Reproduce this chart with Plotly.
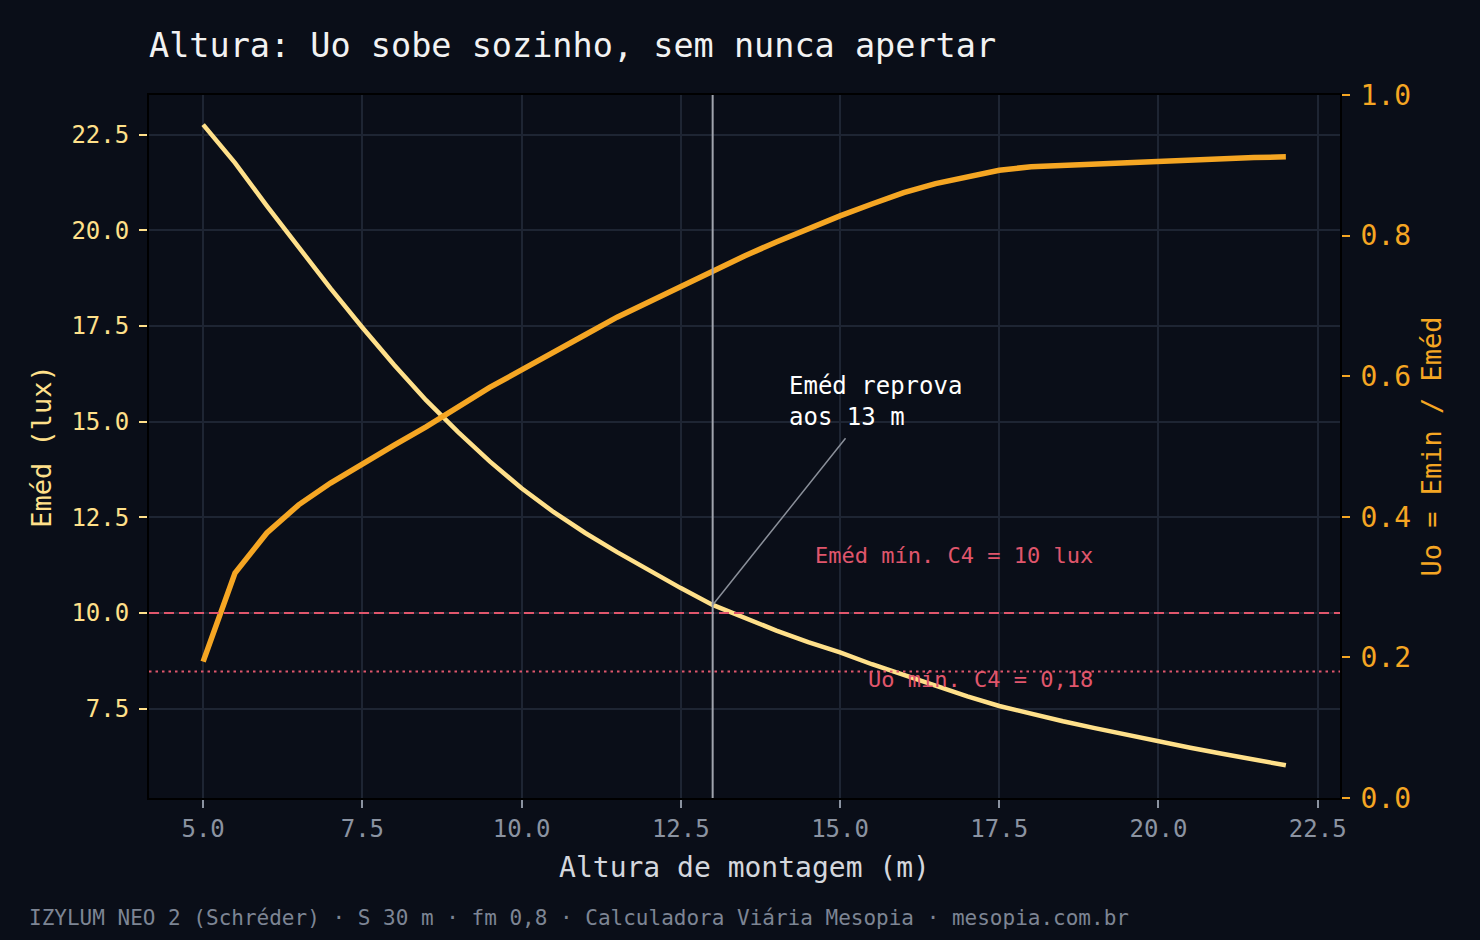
"""Altura de montagem vs Eméd / Uo — IZYLUM NEO 2, dual axis."""

import plotly.graph_objects as go

# --- data ---
altura = [5.0, 5.5, 6.0, 6.5, 7.0, 7.5, 8.0, 8.5, 9.0, 9.5, 10.0, 10.5, 11.0, 11.5,
          12.0, 12.5, 13.0, 13.5, 14.0, 14.5, 15.0, 15.5, 16.0, 16.5, 17.0, 17.5,
          18.0, 18.5, 19.0, 19.5, 20.0, 20.5, 21.0, 21.5, 22.0]
emed = [22.76, 21.76, 20.64, 19.54, 18.48, 17.46, 16.48, 15.56, 14.73, 13.96, 13.26,
        12.64, 12.09, 11.59, 11.11, 10.65, 10.21, 9.86, 9.54, 9.24, 8.97, 8.66, 8.37,
        8.09, 7.82, 7.57, 7.36, 7.17, 6.99, 6.81, 6.64, 6.48, 6.32, 6.17, 6.02]
uo = [0.194, 0.320, 0.377, 0.417, 0.448, 0.476, 0.502, 0.528, 0.556, 0.584, 0.609,
      0.635, 0.659, 0.684, 0.706, 0.727, 0.749, 0.771, 0.791, 0.810, 0.828, 0.845,
      0.861, 0.874, 0.884, 0.893, 0.898, 0.900, 0.902, 0.904, 0.906, 0.908, 0.910,
      0.911, 0.912]

emed_min = 10.0      # C4
uo_min = 0.18        # C4
altura_reprova = 13.0

x_ticks = [5.0, 7.5, 10.0, 12.5, 15.0, 17.5, 20.0, 22.5]

BG = "#0a0e18"
GRID = "#1e2533"
C_EMED = "#ffe08a"
C_UO = "#f5a623"
C_RED = "#e0566c"
MONO = "DejaVu Sans Mono"

fig = go.Figure()
fig.add_scatter(x=altura, y=emed, mode="lines", name="Eméd",
                line=dict(color=C_EMED, width=4.5), yaxis="y")
fig.add_scatter(x=altura, y=uo, mode="lines", name="Uo",
                line=dict(color=C_UO, width=5.5), yaxis="y2")

# limits
fig.add_shape(type="line", xref="paper", x0=0, x1=1, yref="y", y0=emed_min, y1=emed_min,
              line=dict(color=C_RED, width=2, dash="10px,5px"))
fig.add_shape(type="line", xref="paper", x0=0, x1=1, yref="y2", y0=uo_min, y1=uo_min,
              line=dict(color=C_RED, width=2, dash="2.5px,4px"))
fig.add_shape(type="line", xref="x", x0=altura_reprova, x1=altura_reprova,
              yref="paper", y0=0, y1=1, line=dict(color="#a0a4ad", width=2))

fig.add_annotation(x=19.0, y=11.5, xref="x", yref="y", text="Eméd mín. C4 = 10 lux",
                   showarrow=False, xanchor="right", yanchor="middle",
                   font=dict(family=MONO, size=22, color=C_RED))
fig.add_annotation(x=19.0, y=0.168, xref="x", yref="y2", text="Uo mín. C4 = 0,18",
                   showarrow=False, xanchor="right", yanchor="middle",
                   font=dict(family=MONO, size=22, color=C_RED))
fig.add_annotation(x=altura_reprova, y=emed[altura.index(altura_reprova)], xref="x", yref="y",
                   ax=15.55, ay=15.53, axref="x", ayref="y",
                   text="Eméd reprova<br>aos 13 m", align="left",
                   showarrow=True, arrowhead=0, arrowwidth=1.5, arrowcolor="#8a8f99",
                   borderpad=7, standoff=0,
                   font=dict(family=MONO, size=24, color="#ffffff"))

# footer
fig.add_annotation(x=-0.1024, y=-0.1707, xref="paper", yref="paper",
                   text="IZYLUM NEO 2 (Schréder) · S 30 m · fm 0,8 · Calculadora Viária Mesopia · mesopia.com.br",
                   showarrow=False, xanchor="left", yanchor="middle",
                   font=dict(family=MONO, size=21, color="#7d8594"))

fig.update_layout(
    width=1480, height=940,
    paper_bgcolor=BG, plot_bgcolor=BG,
    margin=dict(l=149, r=140, t=95, b=142),
    showlegend=False,
    font=dict(family=MONO),
    title=dict(text="Altura: Uo sobe sozinho, sem nunca apertar", x=149 / 1480, xanchor="left",
               y=1 - 45 / 940, yanchor="middle",
               font=dict(family=MONO, size=33.5, color="#f2f2f2")),
    xaxis=dict(range=[4.15, 22.85], tickvals=x_ticks, tickformat=".1f",
               ticks="outside", ticklen=8, tickwidth=2, tickcolor="#8b93a1",
               tickfont=dict(size=24, color="#8b93a1"),
               showgrid=True, gridcolor=GRID, gridwidth=2, zeroline=False,
               showline=True, linecolor="#000000", linewidth=2, mirror=True,
               title=dict(text="Altura de montagem (m)", standoff=16,
                          font=dict(size=28, color="#d4d7dd"))),
    yaxis=dict(range=[5.165, 23.535], dtick=2.5, tick0=0, tickformat=".1f",
               ticks="outside", ticklen=8, tickwidth=2, tickcolor=C_EMED,
               tickfont=dict(size=24, color=C_EMED), ticklabelstandoff=5,
               showgrid=True, gridcolor=GRID, gridwidth=2, zeroline=False,
               showline=True, linecolor="#000000", linewidth=2, mirror=True,
               title=dict(text="Eméd (lux)", standoff=12,
                          font=dict(size=27, color=C_EMED))),
    yaxis2=dict(range=[0, 1], dtick=0.2, tickformat=".1f", overlaying="y", side="right",
                ticks="outside", ticklen=8, tickwidth=2, tickcolor=C_UO,
                tickfont=dict(size=28, color=C_UO), ticklabelstandoff=5,
                showgrid=False, zeroline=False,
                showline=True, linecolor="#000000", linewidth=2,
                title=dict(text="Uo = Emin / Eméd", standoff=12,
                           font=dict(size=27, color=C_UO))),
)

# the page's default body margin would shift the figure by 8px
fig.write_html("out.html", config={"displayModeBar": False},
               post_script="document.body.style.margin='0';document.body.style.background='" + BG + "';")
